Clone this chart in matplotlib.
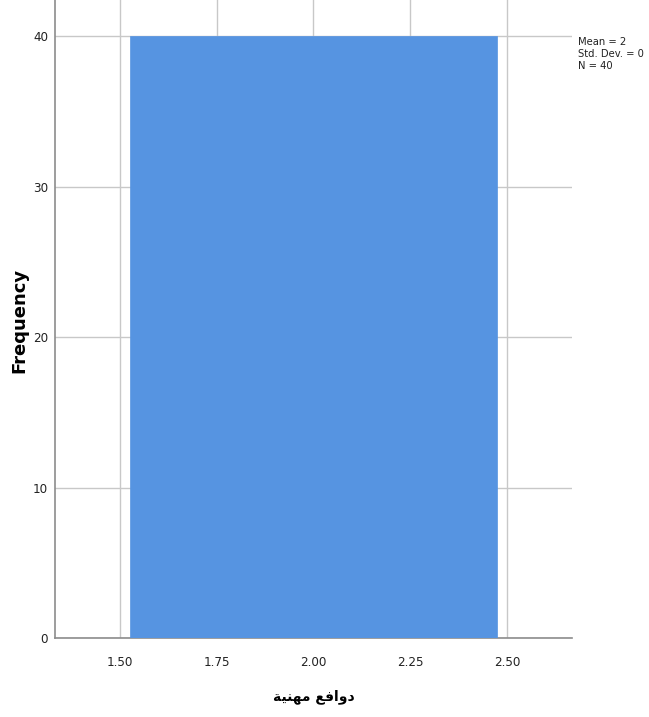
import matplotlib
matplotlib.use("Agg")
import matplotlib.pyplot as plt
from matplotlib import font_manager

# histogram data (single bin)
bin_left = [1.525]
bin_width = [0.95]
counts = [40]
xticks = [1.50, 1.75, 2.00, 2.25, 2.50]
xtick_labels = ["1.50", "1.75", "2.00", "2.25", "2.50"]
yticks = [0, 10, 20, 30, 40]
stats_lines = ["Mean = 2", "Std. Dev. = 0", "N = 40"]
# "دوافع مهنية" shaped into presentation forms, visual order
xlabel_text = "\uFE94\uFEF4\uFEE8\uFEEC\uFEE3 \uFECA\uFED3\uFE8D\uFEED\uFEA9"

# pick a narrow face if one is installed (SPSS uses Arial Narrow)
installed = {(f.name, f.stretch) for f in font_manager.fontManager.ttflist}
names = {n for n, _ in installed}
narrow_kw = {"family": ["DejaVu Sans"], "stretch": "normal"}
if "Liberation Sans Narrow" in names:
    narrow_kw = {"family": ["Liberation Sans Narrow", "DejaVu Sans"], "stretch": "normal"}
elif any(n == "DejaVu Sans" and s == "condensed" for n, s in installed):
    narrow_kw = {"family": ["DejaVu Sans"], "stretch": "condensed"}
elif any(n == "Roboto" and s == "condensed" for n, s in installed):
    narrow_kw = {"family": ["Roboto", "DejaVu Sans"], "stretch": "condensed"}
elif "Liberation Sans" in names:
    narrow_kw = {"family": ["Liberation Sans", "DejaVu Sans"], "stretch": "normal"}

fig = plt.figure(figsize=(6.49, 7.17), dpi=100)
ax = fig.add_axes([0.0847, 0.1102, 0.7966, 0.8898])

ax.bar(bin_left, counts, width=bin_width, align="edge", color="#5694e1",
       edgecolor="#5694e1", linewidth=0.5, zorder=3)

ax.set_xlim(1.332, 2.668)
ax.set_ylim(0, 42.4)
ax.set_xticks(xticks)
ax.set_xticklabels(xtick_labels)
ax.set_yticks(yticks)

ax.grid(True, color="#c8c8c8", linewidth=1.0, zorder=0)
ax.set_axisbelow(True)
ax.tick_params(length=0)
ax.tick_params(axis="y", pad=5)
ax.tick_params(axis="x", pad=13)
for lab in ax.get_xticklabels() + ax.get_yticklabels():
    lab.set_family(narrow_kw["family"])
    lab.set_stretch(narrow_kw["stretch"])
    lab.set_fontsize(9.5)
    lab.set_color("#222222")

for side in ("top", "right"):
    ax.spines[side].set_visible(False)
for side in ("left", "bottom"):
    ax.spines[side].set_color("#8c8c8c")
    ax.spines[side].set_linewidth(1.2)

fig.text(19 / 649, 1 - 320 / 717, "Frequency", rotation=90, ha="center",
         va="center", fontsize=13, fontweight="bold", family="DejaVu Sans")
fig.text(314 / 649, 1 - 697 / 717, xlabel_text, ha="center", va="center",
         fontsize=10, fontweight="bold", family="DejaVu Sans")

fig.text(578 / 649, 1 - 54 / 717, "\n".join(stats_lines), ha="left", va="center",
         fontsize=8, linespacing=1.3, color="#222222",
         family=narrow_kw["family"], stretch=narrow_kw["stretch"])

fig.savefig("out.png", dpi=100, facecolor="white")
